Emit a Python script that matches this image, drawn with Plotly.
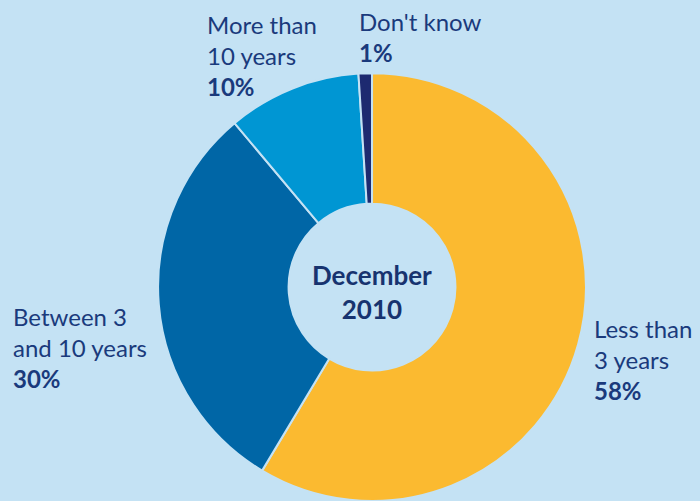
import plotly.graph_objects as go

# Survey answers: how long respondents expect to stay (December 2010)
categories = ["Less than 3 years", "Between 3 and 10 years", "More than 10 years", "Don't know"]
shares = [58, 30, 10, 1]
label_lines = [["Less than", "3 years"], ["Between 3", "and 10 years"], ["More than", "10 years"], ["Don't know"]]
center_title = ["December", "2010"]

bg = "#c4e2f4"
text_col = "#1a3a7c"
slice_colors = ["#fbba30", "#0066a6", "#0096d3", "#1d2a70"]

fig = go.Figure(
    go.Pie(
        labels=categories,
        values=shares,
        sort=False,
        direction="clockwise",
        rotation=0,
        hole=0.39,
        marker=dict(colors=slice_colors, line=dict(color=bg, width=2)),
        textinfo="none",
        hoverinfo="label+percent",
        domain=dict(x=[0.2243, 0.8386], y=[0.0, 0.854]),
        showlegend=False,
    )
)

# label placement (paper coords, top-left anchor)
label_pos = [(592 / 700, 1 - 312 / 501), (11 / 700, 1 - 300 / 501), (205 / 700, 1 - 8 / 501), (357 / 700, 1 - 5 / 501)]

annotations = []
for lines, val, (px, py) in zip(label_lines, shares, label_pos):
    txt = "<br>".join(lines) + f"<br><b>{val}%</b>"
    annotations.append(
        dict(
            x=px, y=py, xref="paper", yref="paper",
            xanchor="left", yanchor="top", align="left",
            text=txt, showarrow=False,
            font=dict(family="Lato", size=24, color=text_col),
        )
    )

annotations.append(
    dict(
        x=372 / 700, y=1 - 292 / 501, xref="paper", yref="paper",
        xanchor="center", yanchor="middle", align="center",
        text="<b>" + "<br>".join(center_title) + "</b>", showarrow=False,
        font=dict(family="Lato", size=26, color="#17336f"),
    )
)

fig.update_layout(
    width=700, height=501,
    margin=dict(l=0, r=0, t=0, b=0),
    paper_bgcolor=bg, plot_bgcolor=bg,
    annotations=annotations,
)

fig.write_html("out.html")
